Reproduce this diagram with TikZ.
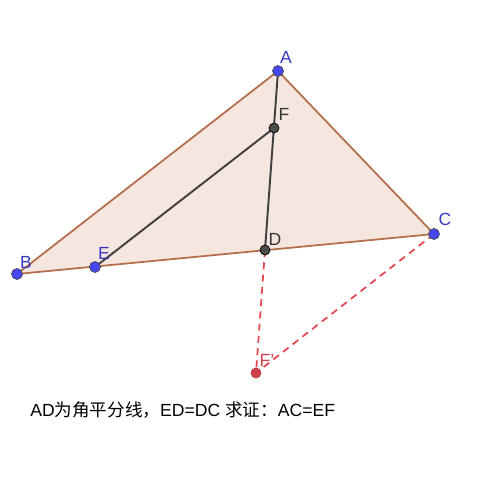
\documentclass[tikz,border=0pt]{standalone}
\usepackage{fontspec}
\setmainfont{Liberation Sans}
\newfontfamily\cjk{Noto Sans CJK SC}
\usepackage{tikz}
\usetikzlibrary{positioning,calc}
\definecolor{GeoEdge}{RGB}{180,110,75}
\definecolor{GeoFill}{RGB}{246,230,224}
\definecolor{GeoBlue}{RGB}{70,70,240}
\definecolor{GeoRed}{RGB}{228,72,80}
\tikzset{
    ptblue/.style={circle, draw=black!70, fill=GeoBlue, minimum size=2.2mm, inner sep=0pt},
    ptdark/.style={circle, draw=black, fill=black!70, minimum size=2mm, inner sep=0pt},
    ptred/.style={circle, draw=GeoRed!80!black, fill=GeoRed!90!black, minimum size=2mm, inner sep=0pt},
    lbl/.style={font=\normalsize, text=black!80, inner sep=1pt}
}

\begin{document}
\begin{tikzpicture}[
        x=0.2mm, y=-0.2mm,
        % --- STYLE ---
        side/.style={draw=GeoEdge, line width=1pt},
        seg/.style={draw=black!75, line width=1.1pt},
        aux/.style={draw=GeoRed, dashed, line width=1pt, dash pattern=on 4pt off 3pt}
    ]
        \useasboundingbox (0,0) rectangle (500,500);

        % --- TAM GIAC ABC ---
        \coordinate (a) at (278,71);
        \coordinate (b) at (17,274);
        \coordinate (c) at (434,234);
        \coordinate (d) at (265,250);
        \coordinate (e) at (95,267);
        \coordinate (f) at (274,128);
        \coordinate (f2) at (256,373);

        \fill[GeoFill] (a) -- (b) -- (c) -- cycle;
        \draw[side] (a) -- (b) -- (c) -- cycle;

        % --- DUONG PHU ---
        \draw[aux] (d) -- (f2);
        \draw[aux] (c) -- (f2);
        \draw[seg] (a) -- (d);
        \draw[seg] (e) -- (f);

        % --- CAC DIEM ---
        \node[ptblue] (A) at (a) {};
        \node[ptblue] (B) at (b) {};
        \node[ptblue] (C) at (c) {};
        \node[ptblue] (E) at (e) {};
        \node[ptdark] (D) at (d) {};
        \node[ptdark] (F) at (f) {};
        \node[ptred] (F2) at (f2) {};

        % --- NHAN ---
        \node[lbl, text=GeoBlue!80!black] at (286,57) {A};
        \node[lbl, text=GeoBlue!80!black] at (26,262) {B};
        \node[lbl, text=GeoBlue!80!black] at (445,219) {C};
        \node[lbl, text=GeoBlue!80!black] at (104,253) {E};
        \node[lbl] at (275,239) {D};
        \node[lbl] at (284,114) {F};
        \node[lbl, text=GeoRed!90!black] at (267,360) {F'};

        % --- DE BAI ---
        \node[anchor=west, font=\normalsize, inner sep=0pt] (de) at (30,410)
            {AD{\cjk 为角平分线，}ED=DC {\cjk 求证：}AC=EF};

    \end{tikzpicture}
\end{document}
